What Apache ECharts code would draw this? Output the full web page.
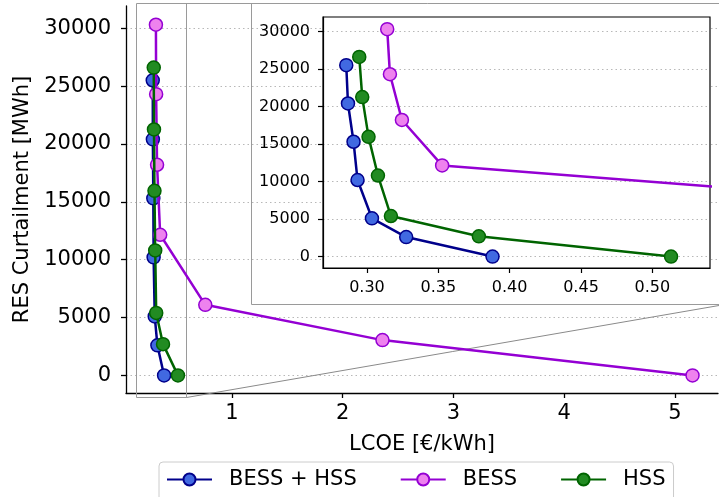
<!DOCTYPE html>
<html>
<head>
<meta charset="utf-8">
<script src="https://cdn.jsdelivr.net/npm/echarts@6/dist/echarts.min.js"></script>
<style>
  html, body { margin: 0; padding: 0; background: #fff; }
  #chart { width: 719px; height: 497px; }
</style>
</head>
<body>
<div id="chart"></div>
<script>
// LCOE [€/kWh] vs RES curtailment [MWh]
var bessHssLcoe = [0.2855, 0.2867, 0.2906, 0.2934, 0.3035, 0.3275, 0.388];
var bessHssCurt = [25500, 20400, 15300, 10200, 5100, 2600, 0];
var bessLcoe = [0.3142, 0.3161, 0.3245, 0.3527, 0.76, 2.36, 5.16];
var bessCurt = [30300, 24300, 18200, 12150, 6100, 3050, 0];
var hssLcoe = [0.2946, 0.2967, 0.3011, 0.3077, 0.3168, 0.3784, 0.5131];
var hssCurt = [26600, 21250, 15950, 10800, 5400, 2700, 0];

var mainXTicks = [1, 2, 3, 4, 5];
var insetXTicks = [0.30, 0.35, 0.40, 0.45, 0.50];
var yTicks = [0, 5000, 10000, 15000, 20000, 25000, 30000];

var FONT = 'DejaVu Sans';

function pairs(xs, ys) {
  var out = [];
  for (var i = 0; i < xs.length; i++) out.push([xs[i], ys[i]]);
  return out;
}

function makeSeries(name, xs, ys, lineColor, fillColor, idx, z) {
  return {
    type: 'line',
    name: name,
    xAxisIndex: idx,
    yAxisIndex: idx,
    data: pairs(xs, ys),
    symbol: 'circle',
    symbolSize: 13,
    z: z,
    clip: true,
    lineStyle: { color: lineColor, width: 2.5 },
    itemStyle: { color: fillColor, borderColor: lineColor, borderWidth: 1.5 },
    emphasis: { disabled: true },
    animation: false
  };
}

var colors = {
  bessHss: ['#00008b', '#4169e1'],
  bess: ['#9400d3', '#ee82ee'],
  hss: ['#006400', '#228b22']
};

var grayLine = { stroke: '#9a9a9a', lineWidth: 1 };
var gridDots = { color: '#b8b8b8', type: [1.5, 3], width: 1 };
function plain(v) { return String(v); }

var chart = echarts.init(document.getElementById('chart'), null, { renderer: 'canvas' });

var option = {
  animation: false,
  textStyle: { fontFamily: FONT },
  grid: [
    { left: 126, top: 6, width: 592, height: 387 },
    { left: 323, top: 17, width: 387, height: 251, show: true, z: 5,
      backgroundColor: '#fff', borderColor: '#000', borderWidth: 1.2 }
  ],
  xAxis: [
    {
      type: 'value', gridIndex: 0, min: 0.044, max: 5.39,
      name: 'LCOE [€/kWh]', nameLocation: 'middle', nameGap: 41,
      nameTextStyle: { fontSize: 21, color: '#000', fontFamily: FONT },
      axisLine: { show: true, onZero: false, lineStyle: { color: '#000', width: 1.3 } },
      axisTick: { show: true, customValues: mainXTicks, length: 5, lineStyle: { color: '#000', width: 1.3 } },
      axisLabel: { customValues: mainXTicks, fontSize: 21, color: '#000', margin: 10, fontFamily: FONT, formatter: plain },
      splitLine: { show: false }
    },
    {
      type: 'value', gridIndex: 1, min: 0.2692, max: 0.5404, z: 6,
      axisLine: { show: true, onZero: false, lineStyle: { color: '#000', width: 1.2 } },
      axisTick: { show: true, customValues: insetXTicks, length: 5, lineStyle: { color: '#000', width: 1.2 } },
      axisLabel: { customValues: insetXTicks, fontSize: 16, color: '#000', margin: 12, fontFamily: FONT,
        formatter: function (v) { return v.toFixed(2); } },
      splitLine: { show: false }
    }
  ],
  yAxis: [
    {
      type: 'value', gridIndex: 0, min: -1520, max: 31920,
      name: 'RES Curtailment [MWh]', nameLocation: 'middle', nameGap: 89, nameRotate: 90,
      nameTextStyle: { fontSize: 21, color: '#000', fontFamily: FONT },
      axisLine: { show: true, onZero: false, lineStyle: { color: '#000', width: 1.3 } },
      axisTick: { show: true, customValues: yTicks, length: 5, lineStyle: { color: '#000', width: 1.3 } },
      axisLabel: { customValues: yTicks, fontSize: 21, color: '#000', margin: 15, fontFamily: FONT, formatter: plain },
      splitLine: { show: true, lineStyle: gridDots }
    },
    {
      type: 'value', gridIndex: 1, min: -1520, max: 31920, z: 6,
      axisLine: { show: true, onZero: false, lineStyle: { color: '#000', width: 1.2 } },
      axisTick: { show: true, customValues: yTicks, length: 5, lineStyle: { color: '#000', width: 1.2 } },
      axisLabel: { customValues: yTicks, fontSize: 16, color: '#000', margin: 13, fontFamily: FONT, formatter: plain },
      splitLine: { show: true, lineStyle: gridDots }
    }
  ],
  legend: {
    left: 159, top: 462,
    data: ['BESS + HSS', 'BESS', 'HSS'],
    itemWidth: 45, itemHeight: 15, itemGap: 43,
    padding: [7, 8, 12, 7],
    borderColor: '#cccccc', borderWidth: 1, borderRadius: 4,
    backgroundColor: '#fff',
    textStyle: { fontSize: 21, color: '#000', fontFamily: FONT, padding: [0, 0, 0, 12] }
  },
  graphic: [
    // outline of the inset frame and the zoom box with its connectors
    { type: 'polyline', z: 1, silent: true, shape: { points: [[136.5, 3.5], [719, 3.5]] }, style: grayLine },
    { type: 'polyline', z: 1, silent: true, shape: { points: [[136.5, 3.5], [136.5, 397.5], [186.5, 397.5], [186.5, 3.5]] }, style: grayLine },
    { type: 'polyline', z: 1, silent: true, shape: { points: [[251.5, 3.5], [251.5, 304.5], [719, 304.5]] }, style: grayLine },
    { type: 'line', z: 1, silent: true, shape: { x1: 186.5, y1: 397.5, x2: 719, y2: 305.5 }, style: { stroke: '#8a8a8a', lineWidth: 1 } }
  ],
  series: [
    makeSeries('BESS + HSS', bessHssLcoe, bessHssCurt, colors.bessHss[0], colors.bessHss[1], 0, 2),
    makeSeries('BESS', bessLcoe, bessCurt, colors.bess[0], colors.bess[1], 0, 3),
    makeSeries('HSS', hssLcoe, hssCurt, colors.hss[0], colors.hss[1], 0, 4),
    makeSeries('BESS + HSS', bessHssLcoe, bessHssCurt, colors.bessHss[0], colors.bessHss[1], 1, 7),
    makeSeries('BESS', bessLcoe, bessCurt, colors.bess[0], colors.bess[1], 1, 8),
    makeSeries('HSS', hssLcoe, hssCurt, colors.hss[0], colors.hss[1], 1, 9)
  ]
};

chart.setOption(option);
</script>
</body>
</html>
